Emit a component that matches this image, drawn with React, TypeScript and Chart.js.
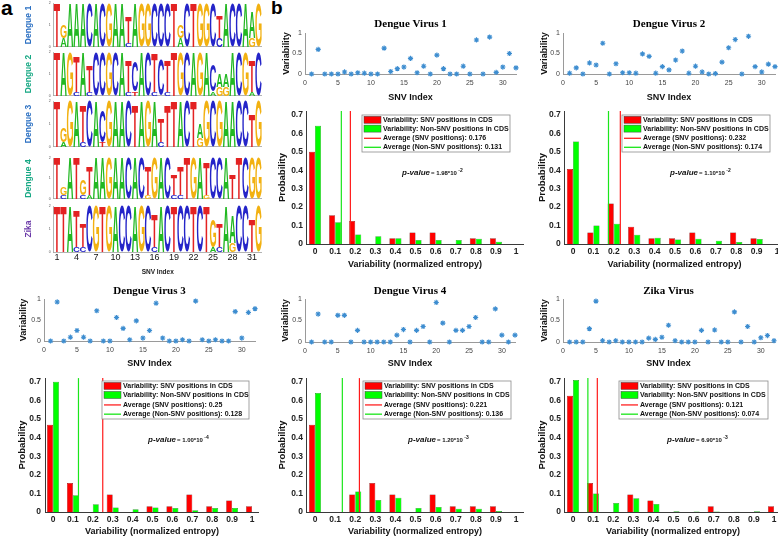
import React, { useEffect, useRef } from "react";
import { Chart, registerables } from "chart.js";

Chart.register(...registerables);

const SANS = '"Liberation Sans", Arial, Helvetica, sans-serif';
const SERIF = '"Liberation Serif", "Times New Roman", serif';

// ---------------- panel a : sequence logos ----------------
// each column: letters listed top to bottom, height in tenths of the full column
const snvPositions = ["1","2","3","4","5","6","7","8","9","10","11","12","13","14","15","16","17","18","19","20","21","22","23","24","25","26","27","28","29","30","31","32"];
const logoTickLabels = ["1","4","7","10","13","16","19","22","25","28","31"];

const dengue1Logo = ["T10","G3A2","A10","A10","A10","C10","A10","C10","G10","A10","A10","T6C1","A10","G10","G10","C10","C10","C10","T10","G3A2","C10","T10","G10","G10","C10","T5C2","A10","C10","C10","A10","A6G2","G10"];
const dengue2Logo = ["T10","A10","G10","T8C1","A10","T6C1","C10","C10","G10","C10","A10","T7C1","C7T1","A10","C10","T9C1","C8","T7C1","T10","G10","C10","A10","G10","A10","C6A1","A3G2","A3G2","A10","C10","G10","T7A1","C10"];
const dengue3Logo = ["T10","G3A1","G10","A10","T8C1","C10","A10","C7T1","G10","A10","A10","C10","T9","A10","G10","A10","T5C1","T9","T10","A10","C10","T10","A3G2","G10","C10","G10","A10","A10","C10","C10","T7","G10"];
const dengue4Logo = ["T10","G2C1","A10","T10","G4C1","T7A1","A10","A10","G10","A10","A10","C10","A10","C10","T7G1","G10","A10","C10","T5C1","T7C1","T10","G10","A10","T8G1","C10","C10","A10","T6","T10","C10","G10","G10"];
const zikaLogo = ["T10","T10","A10","T8C1","T5C1","C10","G10","T10","G10","A10","C10","C10","A10","G10","C10","T7C1","A10","C10","T10","C10","C10","T10","C10","T10","G6A1","T5C1","A10","A6G2","C10","C10","T7","G10"];

// ---------------- panel b : variability per SNV index ----------------
const snvIndex = [1,2,3,4,5,6,7,8,9,10,11,12,13,14,15,16,17,18,19,20,21,22,23,24,25,26,27,28,29,30,31,32];
const dv1Variability = [0,0.6,0,0,0,0.05,0,0.03,0.02,0,0,0.63,0.06,0.13,0.17,0.38,0.03,0.19,0,0.46,0.13,0,0,0.19,0,0.83,0,0.9,0.04,0.17,0.5,0.15];
const dv2Variability = [0.02,0.15,0,0.27,0.22,0.75,0,0.25,0.03,0.03,0.02,0.49,0.43,0.02,0.18,0.1,0.34,0.56,0.02,0.19,0.05,0,0.01,0.29,0.64,0.84,0,0.92,0.18,0.05,0.24,0.18];
const dv3Variability = [0,0.93,0,0.09,0.25,0.09,0,0.72,0,0,0.56,0.3,0.03,0.48,0.07,0.25,0.9,0.07,0,0,0.03,0,0.95,0.03,0,0.03,0,0,0.7,0.07,0.68,0.77];
const dv4Variability = [0,0.65,0,0,0.62,0.62,0,0.27,0,0,0,0,0,0.16,0.29,0,0.27,0.36,0,0.92,0.44,0,0.27,0.27,0.36,0.57,0,0,0.77,0.16,0,0.16];
const zikaVariability = [0,0,0,0.31,0.95,0.03,0,0.03,0,0,0,0,0.09,0.06,0.11,0.39,0.03,0,0,0,0.27,0,0.28,0,0,0.7,0,0.36,0,0.1,0.15,0.03];

// ---------------- histograms of normalized entropy ----------------
const entropyBins = [0,0.1,0.2,0.3,0.4,0.5,0.6,0.7,0.8,0.9,1];
const dv1SnvProb = [0.5,0.156,0.125,0,0.031,0.0625,0.0625,0,0.031,0.031,0];
const dv1NonSnvProb = [0.64,0.118,0.052,0.042,0.031,0.022,0.022,0.022,0.029,0.012,0];
const dv2SnvProb = [0.406,0.0625,0.219,0.094,0.031,0.031,0.0625,0,0.0625,0.031,0];
const dv2NonSnvProb = [0.555,0.1,0.11,0.05,0.034,0.024,0.029,0.018,0.011,0.027,0];
const dv3SnvProb = [0.469,0.156,0,0.094,0,0.031,0.031,0.094,0.031,0.0625,0.031];
const dv3NonSnvProb = [0.7,0.09,0.042,0.024,0.015,0.024,0.022,0.01,0.022,0.022,0];
const dv4SnvProb = [0.469,0,0.094,0.156,0.094,0,0.094,0.031,0.031,0.031,0];
const dv4NonSnvProb = [0.64,0,0.11,0.065,0.077,0.022,0.027,0.018,0.018,0.005,0];
const zikaSnvProb = [0.625,0.156,0,0.094,0.0625,0,0,0.031,0,0,0.031];
const zikaNonSnvProb = [0.71,0.1,0.048,0.074,0.043,0.004,0.003,0.003,0.001,0.004,0];

const dv1Averages = [0.176, 0.131];
const dv2Averages = [0.232, 0.174];
const dv3Averages = [0.25, 0.128];
const dv4Averages = [0.221, 0.136];
const zikaAverages = [0.121, 0.074];

const dv1PValue = ["1.98", "-2"];
const dv2PValue = ["1.10", "-2"];
const dv3PValue = ["1.00", "-4"];
const dv4PValue = ["1.20", "-3"];
const zikaPValue = ["6.90", "-3"];

// ---------------- helpers ----------------
const LETTER_COLORS: any = { A: "#22b822", C: "#2424c8", G: "#f2b111", T: "#e32222" };

type Rect = { l: number; t: number; r: number; b: number };

function makeFrame(p: Rect, yTitleX: number, yTitleSize: number, xBottom: number, titleY?: number, titleSize?: number, topSpace = 6, R = 8) {
  const left = Math.floor(yTitleX - yTitleSize * 0.6);
  const L = p.l - left;
  let top: number;
  let titlePad: any = null;
  if (titleY !== undefined && titleSize) {
    const lh = titleSize * 1.2;
    top = Math.floor(titleY - lh / 2 - 1);
    const T0 = p.t - top;
    const pt = titleY - lh / 2 - top;
    titlePad = { top: pt, bottom: T0 - pt - lh };
  } else {
    top = Math.floor(p.t - topSpace);
  }
  const T = p.t - top;
  const bottom = Math.ceil(xBottom);
  const B = bottom - p.b;
  const right = Math.ceil(p.r + R);
  return { left, top, width: right - left, height: bottom - top, L, T, R: right - p.r, B, titlePad };
}

function buildLogo(cols: string[]) {
  const letters = ["A", "C", "G", "T"];
  const data: any = { A: [], C: [], G: [], T: [] };
  cols.forEach((spec) => {
    const parts = Array.from(spec.matchAll(/([ACGT])(\d+)/g)).map((m: any) => [m[1], Number(m[2]) / 10]);
    letters.forEach((l) => data[l].push(null));
    let y = 0;
    for (let k = parts.length - 1; k >= 0; k--) {
      const [l, h] = parts[k] as [string, number];
      data[l][data[l].length - 1] = [y, y + h];
      y += h;
    }
  });
  return letters.map((l) => ({
    label: l,
    data: data[l],
    backgroundColor: "rgba(0,0,0,0)",
    borderWidth: 0,
    grouped: false,
    barPercentage: 0.96,
    categoryPercentage: 1,
  }));
}

function drawLetter(ctx: any, ch: string, color: string, x: number, y: number, w: number, h: number) {
  ctx.save();
  ctx.font = `bold 100px ${SANS}`;
  const m = ctx.measureText(ch);
  const gw = m.actualBoundingBoxLeft + m.actualBoundingBoxRight;
  const gh = m.actualBoundingBoxAscent + m.actualBoundingBoxDescent;
  ctx.translate(x, y);
  ctx.scale(w / gw, h / gh);
  ctx.fillStyle = color;
  ctx.textAlign = "left";
  ctx.textBaseline = "alphabetic";
  ctx.fillText(ch, m.actualBoundingBoxLeft, m.actualBoundingBoxAscent);
  ctx.restore();
}

const logoLetterPlugin = {
  id: "logoLetters",
  afterDatasetsDraw(chart: any) {
    const ctx = chart.ctx;
    chart.data.datasets.forEach((ds: any, di: number) => {
      const meta = chart.getDatasetMeta(di);
      meta.data.forEach((el: any, i: number) => {
        if (!ds.data[i]) return;
        const { x, y, base, width } = el.getProps(["x", "y", "base", "width"], true);
        const top = Math.min(y, base);
        const h = Math.abs(base - y);
        if (h < 0.4) return;
        drawLetter(ctx, ds.label, LETTER_COLORS[ds.label], x - width / 2, top, width, h);
      });
    });
  },
};

const histExtras = {
  id: "histExtras",
  afterDraw(chart: any, _a: any, o: any) {
    const ctx = chart.ctx;
    ctx.save();
    ctx.textBaseline = "middle";
    ctx.textAlign = "left";
    ctx.fillStyle = "#111";
    let x = o.px;
    const y = o.py;
    ctx.font = `italic bold 8px ${SANS}`;
    ctx.fillText("p-value", x, y);
    x += ctx.measureText("p-value").width + 1;
    ctx.font = `bold 6px ${SANS}`;
    const mid = `= ${o.p[0]}*10`;
    ctx.fillText(mid, x, y + 0.8);
    x += ctx.measureText(mid).width + 1.5;
    ctx.font = `bold 5px ${SANS}`;
    ctx.fillText(o.p[1], x, y - 2.5);

    const { lx, ly, lw, lh } = o;
    ctx.fillStyle = "#fff";
    ctx.fillRect(lx, ly, lw, lh);
    ctx.strokeStyle = "#8c8c8c";
    ctx.lineWidth = 0.8;
    ctx.strokeRect(lx, ly, lw, lh);
    const rows = [
      { kind: "rect", color: "#ff0000", text: "Variability: SNV positions in CDS" },
      { kind: "rect", color: "#00ff00", text: "Variability: Non-SNV positions in CDS" },
      { kind: "line", color: "#ff2020", text: `Average (SNV positions): ${o.avg[0]}` },
      { kind: "line", color: "#19e619", text: `Average (Non-SNV positions): ${o.avg[1]}` },
    ];
    const offs = [4.8, 13.6, 23.3, 32.3];
    rows.forEach((r, k) => {
      const cy = ly + offs[k] * (lh / 37);
      if (r.kind === "rect") {
        ctx.fillStyle = r.color;
        ctx.fillRect(lx + 2, cy - 3.5, 17, 7);
        ctx.strokeStyle = "#444";
        ctx.lineWidth = 0.5;
        ctx.strokeRect(lx + 2, cy - 3.5, 17, 7);
      } else {
        ctx.strokeStyle = r.color;
        ctx.lineWidth = 1.3;
        ctx.beginPath();
        ctx.moveTo(lx + 2, cy);
        ctx.lineTo(lx + 19, cy);
        ctx.stroke();
      }
      ctx.fillStyle = "#111";
      ctx.font = `bold 7px ${SANS}`;
      ctx.fillText(r.text, lx + 21, cy);
    });
    ctx.restore();
  },
};

function baseOptions(fr: any) {
  return {
    animation: false,
    responsive: false,
    events: [],
    layout: { padding: { top: fr.titlePad ? 0 : fr.T, right: fr.R, left: 0, bottom: 0 } },
  };
}

const fmt = (v: any) => String(Math.round(v * 10) / 10);

function logoConfig(cols: string[], name: string, color: string, fr: any, showX: boolean) {
  return {
    type: "bar",
    data: { labels: snvPositions, datasets: buildLogo(cols) },
    options: {
      ...baseOptions(fr),
      plugins: { legend: { display: false }, tooltip: { enabled: false }, title: { display: false } },
      scales: {
        x: {
          type: "category",
          offset: true,
          grid: { display: false, drawTicks: false },
          border: { color: "#a0a0a0", width: 0.8 },
          ticks: {
            display: showX,
            autoSkip: false,
            maxRotation: 0,
            padding: 0,
            font: { family: SANS, size: 9 },
            color: "#111",
            callback: (_v: any, i: number) => (logoTickLabels.includes(snvPositions[i]) ? snvPositions[i] : ""),
          },
          title: { display: showX, text: "SNV Index", font: { family: SANS, size: 6.5, weight: "bold" }, color: "#222", padding: 0 },
          afterFit: (s: any) => { s.height = fr.B; },
        },
        y: {
          min: 0,
          max: 1,
          grid: { display: false, drawTicks: true, tickLength: 2, tickColor: "#a0a0a0" },
          border: { color: "#a0a0a0", width: 0.8 },
          ticks: { stepSize: 0.5, font: { family: SANS, size: 3.5 }, color: "#555", padding: 1, callback: (v: any) => String(v * 2) },
          title: { display: true, text: name, color, font: { family: SANS, size: 8.5, weight: "bold" }, padding: 0 },
          afterFit: (s: any) => { s.width = fr.L; },
        },
      },
    },
    plugins: [logoLetterPlugin],
  };
}

function scatterConfig(title: string, values: number[], fr: any) {
  return {
    type: "scatter",
    data: {
      datasets: [
        {
          data: snvIndex.map((x, i) => ({ x, y: values[i] })),
          pointStyle: "star",
          pointRadius: 2.6,
          borderColor: "#3d8dd0",
          backgroundColor: "#3d8dd0",
          borderWidth: 1.1,
          clip: false,
        },
      ],
    },
    options: {
      ...baseOptions(fr),
      plugins: {
        legend: { display: false },
        tooltip: { enabled: false },
        title: {
          display: true,
          text: title,
          fullSize: false,
          color: "#000",
          font: { family: SERIF, size: 11, weight: "bold", lineHeight: 1.2 },
          padding: fr.titlePad,
        },
      },
      scales: {
        x: {
          type: "linear",
          min: 0,
          max: 32,
          grid: { display: false, drawTicks: false },
          border: { color: "#9a9a9a", width: 1 },
          ticks: { stepSize: 5, includeBounds: false, font: { family: SANS, size: 7 }, color: "#444", padding: 5, callback: fmt },
          title: { display: true, text: "SNV Index", font: { family: SANS, size: 9, weight: "bold" }, color: "#111", padding: 0 },
          afterFit: (s: any) => { s.height = fr.B; },
        },
        y: {
          min: 0,
          max: 1,
          grid: { display: false, drawTicks: false },
          border: { color: "#9a9a9a", width: 1 },
          ticks: { stepSize: 0.5, includeBounds: false, font: { family: SANS, size: 7 }, color: "#444", padding: 3, callback: fmt },
          title: { display: true, text: "Variability", font: { family: SANS, size: 9, weight: "bold" }, color: "#111", padding: 0 },
          afterFit: (s: any) => { s.width = fr.L; },
        },
      },
    },
  };
}

function histConfig(snv: number[], non: number[], avg: number[], pv: string[], fr: any, xmin: number, xmax: number, legend: any, pPos: any) {
  return {
    type: "bar",
    data: {
      datasets: [
        { type: "line", data: [{ x: avg[0], y: 0 }, { x: avg[0], y: 0.72 }], borderColor: "#ff1a1a", borderWidth: 1.2, pointRadius: 0, order: 1 },
        { type: "line", data: [{ x: avg[1], y: 0 }, { x: avg[1], y: 0.72 }], borderColor: "#1ae61a", borderWidth: 1.2, pointRadius: 0, order: 1 },
        { type: "bar", data: entropyBins.map((b, i) => ({ x: b, y: snv[i] })), backgroundColor: "#ff0000", borderColor: "#6a0000", borderWidth: 0.5, categoryPercentage: 0.6, barPercentage: 1, order: 2 },
        { type: "bar", data: entropyBins.map((b, i) => ({ x: b, y: non[i] })), backgroundColor: "#00ff00", borderColor: "#1b6b1b", borderWidth: 0.5, categoryPercentage: 0.6, barPercentage: 1, order: 2 },
      ],
    },
    options: {
      ...baseOptions(fr),
      plugins: {
        legend: { display: false },
        tooltip: { enabled: false },
        title: { display: false },
        histExtras: {
          avg,
          p: pv,
          px: pPos.x - fr.left,
          py: pPos.y - fr.top,
          lx: legend.x - fr.left,
          ly: legend.y - fr.top,
          lw: legend.w,
          lh: legend.h,
        },
      },
      scales: {
        x: {
          type: "linear",
          min: xmin,
          max: xmax,
          offset: false,
          grid: { display: false, drawTicks: false, offset: false },
          border: { color: "#3a3a3a", width: 1 },
          ticks: { stepSize: 0.1, includeBounds: false, font: { family: SANS, size: 8.5, weight: "bold" }, color: "#222", padding: 3, callback: fmt },
          title: { display: true, text: "Variability (normalized entropy)", font: { family: SANS, size: 9, weight: "bold" }, color: "#111", padding: 0 },
          afterFit: (s: any) => { s.height = fr.B; },
        },
        y: {
          min: 0,
          max: 0.72,
          grid: { display: false, drawTicks: false },
          border: { color: "#3a3a3a", width: 1 },
          ticks: { stepSize: 0.1, includeBounds: false, font: { family: SANS, size: 8.5, weight: "bold" }, color: "#222", padding: 4, callback: fmt },
          title: { display: true, text: "Probability", font: { family: SANS, size: 9.5, weight: "bold" }, color: "#111", padding: 0 },
          afterFit: (s: any) => { s.width = fr.L; },
        },
      },
    },
    plugins: [histExtras],
  };
}

function ChartBox({ fr, make }: { fr: any; make: () => any }) {
  const ref = useRef<HTMLCanvasElement>(null);
  useEffect(() => {
    const chart = new Chart(ref.current as any, make());
    return () => chart.destroy();
  }, []);
  return (
    <canvas
      ref={ref}
      width={fr.width}
      height={fr.height}
      style={{ position: "absolute", left: fr.left, top: fr.top, width: fr.width, height: fr.height, display: "block" }}
    />
  );
}

// ---------------- layout ----------------
const logoL = 53.75;
const logoR = 261.75;
const logoRows = [
  { cols: dengue1Logo, name: "Dengue 1", color: "#2a6fc2", t: 2, b: 49 },
  { cols: dengue2Logo, name: "Dengue 2", color: "#17a884", t: 51, b: 98 },
  { cols: dengue3Logo, name: "Dengue 3", color: "#2a6fc2", t: 100, b: 149 },
  { cols: dengue4Logo, name: "Dengue 4", color: "#17a884", t: 157, b: 201 },
  { cols: zikaLogo, name: "Zika", color: "#6b3aa8", t: 205, b: 252 },
];

function histAxis(zero: number, perUnit: number) {
  const xmin = -0.04;
  const xmax = 1.035;
  return { l: zero + xmin * perUnit, r: zero + xmax * perUnit, xmin, xmax };
}

export default function App() {
  useEffect(() => {
    document.body.style.margin = "0";
  }, []);

  const charts: any[] = [];

  logoRows.forEach((row, i) => {
    const last = i === logoRows.length - 1;
    const p = { l: logoL, t: row.t, r: logoR, b: row.b };
    const fr = makeFrame(p, 30, 8.5, last ? 272 + 3.9 : row.b + 1, undefined, undefined, 2, 4);
    charts.push(<ChartBox key={"logo" + i} fr={fr} make={() => logoConfig(row.cols, row.name, row.color, fr, last)} />);
  });

  const scatters = [
    { title: "Dengue Virus 1", v: dv1Variability, p: { l: 305, t: 33, r: 516, b: 74 }, yT: 287, xT: 97, tY: 24 },
    { title: "Dengue Virus 2", v: dv2Variability, p: { l: 563, t: 33, r: 775, b: 74 }, yT: 545, xT: 97, tY: 24 },
    { title: "Dengue Virus 3", v: dv3Variability, p: { l: 44, t: 299, r: 255, b: 341 }, yT: 24, xT: 363, tY: 291 },
    { title: "Dengue Virus 4", v: dv4Variability, p: { l: 305, t: 299, r: 515, b: 342 }, yT: 286, xT: 363, tY: 291 },
    { title: "Zika Virus", v: zikaVariability, p: { l: 563, t: 299, r: 774, b: 342 }, yT: 545, xT: 363, tY: 291 },
  ];
  scatters.forEach((s, i) => {
    const fr = makeFrame(s.p, s.yT, 9, s.xT + 5.4, s.tY, 11);
    charts.push(<ChartBox key={"sc" + i} fr={fr} make={() => scatterConfig(s.title, s.v, fr)} />);
  });

  const hists = [
    { snv: dv1SnvProb, non: dv1NonSnvProb, avg: dv1Averages, pv: dv1PValue, zero: 315, unit: 201, t: 110, b: 244, yT: 283, xT: 264, lg: { x: 362, y: 115, w: 148, h: 37 }, pp: { x: 402, y: 173 } },
    { snv: dv2SnvProb, non: dv2NonSnvProb, avg: dv2Averages, pv: dv2PValue, zero: 573, unit: 204, t: 110, b: 244, yT: 543, xT: 264, lg: { x: 622, y: 115, w: 148, h: 37 }, pp: { x: 670, y: 173 } },
    { snv: dv3SnvProb, non: dv3NonSnvProb, avg: dv3Averages, pv: dv3PValue, zero: 53, unit: 199, t: 377, b: 512, yT: 23, xT: 531, lg: { x: 102, y: 381, w: 147, h: 38 }, pp: { x: 148, y: 440 } },
    { snv: dv4SnvProb, non: dv4NonSnvProb, avg: dv4Averages, pv: dv4PValue, zero: 315, unit: 201, t: 377, b: 512, yT: 283, xT: 531, lg: { x: 363, y: 381, w: 148, h: 38 }, pp: { x: 408, y: 440 } },
    { snv: zikaSnvProb, non: zikaNonSnvProb, avg: zikaAverages, pv: zikaPValue, zero: 573, unit: 201, t: 377, b: 512, yT: 543, xT: 531, lg: { x: 619, y: 381, w: 149, h: 38 }, pp: { x: 667, y: 440 } },
  ];
  hists.forEach((h, i) => {
    const ax = histAxis(h.zero, h.unit);
    const p = { l: ax.l, t: h.t, r: ax.r, b: h.b };
    const fr = makeFrame(p, h.yT, 9.5, h.xT + 5.4, undefined, undefined, 8, 8);
    charts.push(
      <ChartBox key={"h" + i} fr={fr} make={() => histConfig(h.snv, h.non, h.avg, h.pv, fr, ax.xmin, ax.xmax, h.lg, h.pp)} />
    );
  });

  return (
    <div style={{ position: "relative", width: 778, height: 537, overflow: "hidden", background: "#fff" }}>
      <style>{"body{margin:0;}"}</style>
      <div style={{ position: "absolute", left: 1, top: -3, font: `bold 21px ${SANS}`, lineHeight: "21px", color: "#000" }}>a</div>
      <div style={{ position: "absolute", left: 271, top: -2, font: `bold 19px ${SANS}`, lineHeight: "19px", color: "#000" }}>b</div>
      {charts}
    </div>
  );
}
